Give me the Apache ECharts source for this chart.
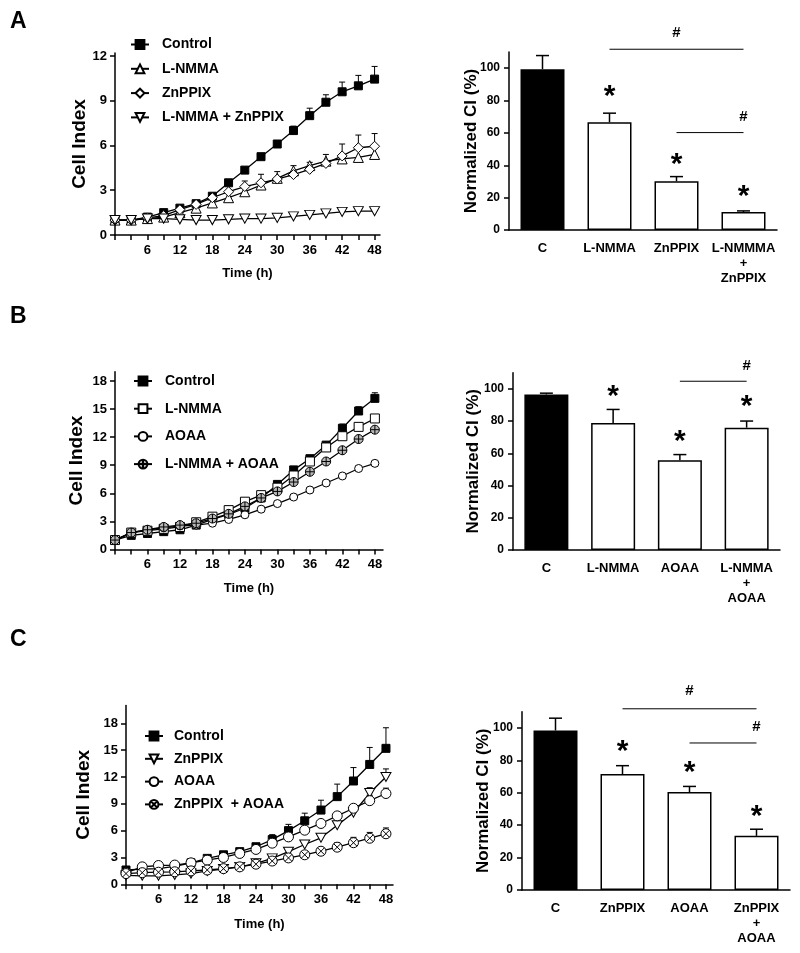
<!DOCTYPE html>
<html><head><meta charset="utf-8">
<script src="https://cdn.jsdelivr.net/npm/echarts@6/dist/echarts.min.js"></script>
<style>
body{margin:0;background:#fff;width:800px;height:953px;overflow:hidden;position:relative}
.row{position:absolute;left:0;width:800px}
</style></head>
<body>
<div id="rA" class="row" style="top:0;height:300px"></div>
<div id="rB" class="row" style="top:300px;height:320px"></div>
<div id="rC" class="row" style="top:620px;height:333px"></div>
<script>
// ---------- shared ticks ----------
const HOURS = [0,3,6,9,12,15,18,21,24,27,30,33,36,39,42,45,48];
const LINE_X_LABELS = [6,12,18,24,30,36,42,48];
const A_Y_TICKS = [0,3,6,9,12];
const BC_Y_TICKS = [0,3,6,9,12,15,18];
const BAR_Y_TICKS = [0,20,40,60,80,100];

// ---------- Panel A ----------
const A_control     = [1.0,1.0,1.2,1.5,1.8,2.1,2.6,3.5,4.35,5.25,6.1,7.0,8.0,8.9,9.6,10.0,10.45];
const A_control_err = [0,0,0,0,0,0,0,0,0,0,0.2,0.3,0.5,0.5,0.65,0.7,0.85];
const A_lnmma       = [1.0,1.0,1.1,1.2,1.5,1.8,2.15,2.5,2.9,3.35,3.8,4.3,4.65,4.95,5.1,5.2,5.4];
const A_lnmma_err   = [0,0,0,0,0,0,0,0,0,0,0,0,0,0,0,0,0];
const A_znppix      = [1.0,1.0,1.15,1.3,1.7,2.05,2.5,2.9,3.25,3.5,3.75,4.05,4.4,4.8,5.3,5.85,5.95];
const A_znppix_err  = [0,0,0,0,0,0,0,0,0.37,0.57,0.5,0.6,0.47,0.6,0.8,0.85,0.85];
const A_combo       = [1.0,1.0,1.1,1.1,1.05,1.0,1.0,1.05,1.1,1.1,1.15,1.25,1.35,1.45,1.55,1.6,1.6];
const A_combo_err   = [0,0,0,0,0,0,0,0,0,0,0,0,0,0,0,0,0];
const A_bar_labels  = ['C','L-NMMA','ZnPPIX','L-NMMMA\n+\nZnPPIX'];
const A_bar         = [99.4,66.6,30.1,11.1];
const A_bar_err     = [8.4,5.6,2.9,0.7];
const A_star_cats   = [1,2,3];
const A_star_y      = [85.6,43.3,23.7];
const A_sig         = [[1,3,111.7,121.8],[2,3,60.2,70.1]]; // [from, to, line y, # y]

// ---------- Panel B ----------
const B_control     = [1.0,1.5,1.7,1.9,2.1,2.6,3.2,3.75,4.4,5.5,6.95,8.5,9.7,11.15,12.95,14.8,16.15];
const B_control_err = [0,0,0,0,0,0,0,0,0,0,0,0.15,0.2,0.2,0.45,0.45,0.6];
const B_lnmma       = [1.0,1.8,2.0,2.2,2.4,2.9,3.5,4.2,5.1,5.8,6.6,7.9,9.4,10.9,12.1,13.1,14.0];
const B_lnmma_err   = [0,0,0,0,0,0,0,0,0,0,0,0,0,0,0,0,0];
const B_aoaa        = [1.0,1.8,2.1,2.3,2.5,2.6,2.8,3.2,3.7,4.3,4.9,5.6,6.35,7.1,7.85,8.65,9.2];
const B_aoaa_err    = [0,0,0,0,0,0,0,0,0,0,0,0,0,0,0,0,0];
const B_combo       = [1.0,1.8,2.1,2.4,2.6,2.8,3.3,3.8,4.6,5.5,6.2,7.2,8.3,9.4,10.6,11.8,12.8];
const B_combo_err   = [0,0,0,0,0,0,0,0,0,0,0,0,0,0,0,0,0];
const B_bar_labels  = ['C','L-NMMA','AOAA','L-NMMA\n+\nAOAA'];
const B_bar         = [96.5,78.8,55.7,75.9];
const B_bar_err     = [0.8,8.4,3.5,4.1];
const B_star_cats   = [1,2,3];
const B_star_y      = [97.9,70.5,91.7];
const B_sig         = [[2,3,104.7,114.4]];

// ---------- Panel C ----------
const C_control     = [1.6,1.7,1.75,2.0,2.4,2.9,3.3,3.65,4.2,5.0,6.0,7.1,8.3,9.8,11.55,13.4,15.2];
const C_control_err = [0,0,0,0,0,0,0,0,0.25,0.55,0.7,0.85,1.1,1.4,1.5,1.9,2.3];
const C_znppix      = [1.0,0.95,0.95,1.05,1.2,1.5,1.7,1.95,2.35,2.9,3.65,4.45,5.2,6.6,8.0,10.2,12.0];
const C_znppix_err  = [0,0,0,0,0,0,0,0,0,0,0,0,0,0,0.4,0.6,0.9];
const C_aoaa        = [1.3,1.95,2.1,2.15,2.4,2.7,3.0,3.45,3.9,4.6,5.3,6.05,6.8,7.65,8.5,9.35,10.15];
const C_aoaa_err    = [0,0,0,0,0,0,0,0,0,0,0,0,0,0,0,0.6,0.6];
const C_combo       = [1.2,1.3,1.35,1.4,1.5,1.6,1.75,1.95,2.25,2.6,2.95,3.3,3.7,4.15,4.65,5.15,5.65];
const C_combo_err   = [0,0,0,0,0,0,0,0,0,0,0.2,0.2,0.35,0.5,0.6,0.65,0.65];
const C_bar_labels  = ['C','ZnPPIX','AOAA','ZnPPIX\n+\nAOAA'];
const C_bar         = [98.4,71.5,60.4,33.4];
const C_bar_err     = [7.6,5.2,3.5,4.1];
const C_star_cats   = [1,2,3];
const C_star_y      = [88.2,75.3,48.4];
const C_sig         = [[1,3,111.8,122.6],[2,3,90.7,100.4]];

// ---------- styles ----------
const FONT = 'Liberation Sans, Arial, Helvetica, sans-serif';
const SYM = {
  rectFilled: {symbol:'rect', fill:'#000', size:8},
  rectOpen:   {symbol:'rect', fill:'#fff', size:9},
  triUp:      {symbol:'triangle', fill:'#fff', size:10},
  triDown:    {symbol:'path://M0,0L10,0L5,9Z', fill:'#fff', size:[10,9]},
  diamond:    {symbol:'diamond', fill:'#fff', size:10},
  circle:     {symbol:'circle', fill:'#fff', size:8},
  circleBig:  {symbol:'circle', fill:'#fff', size:10},
  circlePlus: {symbol:'path://M10,0A10,10,0,1,1,10,20A10,10,0,1,1,10,0ZM10,0L10,20M0,10L20,10', fill:'#b8b8b8', size:9},
  circleX:    {symbol:'path://M10,0A10,10,0,1,1,10,20A10,10,0,1,1,10,0ZM3,3L17,17M17,3L3,17', fill:'#fff', size:10}
};

function errItem(cap, lw) {
  return function (params, api) {
    const x = api.value(0), y = api.value(1), e = api.value(2);
    if (!e) return null;
    const p0 = api.coord([x, y]);
    const p1 = api.coord([x, y + e]);
    return {type:'group', children:[
      {type:'line', shape:{x1:p0[0], y1:p0[1], x2:p1[0], y2:p1[1]}, style:{stroke:'#000', lineWidth:lw}},
      {type:'line', shape:{x1:p1[0]-cap/2, y1:p1[1], x2:p1[0]+cap/2, y2:p1[1]}, style:{stroke:'#000', lineWidth:lw}}
    ]};
  };
}
function starItem(params, api) {
  const p = api.coord([api.value(0), api.value(1)]);
  return {type:'text', style:{text:'*', x:p[0], y:p[1] + 5, align:'center', verticalAlign:'middle',
    font:'bold 30px ' + FONT, fill:'#000'}};
}
function sigItem(params, api) {
  const a = api.coord([api.value(0), api.value(2)]);
  const b = api.coord([api.value(1), api.value(2)]);
  const h = api.coord([(api.value(0) + api.value(1)) / 2, api.value(3)]);
  return {type:'group', children:[
    {type:'line', shape:{x1:a[0], y1:a[1], x2:b[0], y2:b[1]}, style:{stroke:'#000', lineWidth:1}},
    {type:'text', style:{text:'#', x:h[0], y:h[1], align:'center', verticalAlign:'middle',
      font:'bold 15px ' + FONT, fill:'#000'}}
  ]};
}

const axisLine = {show:true, lineStyle:{color:'#000', width:1.5}};
const tickLbl = {color:'#000', fontWeight:'bold', fontSize:13, fontFamily:FONT};

function makeRow(el, cfg) {
  const chart = echarts.init(el, null, {renderer:'canvas'});
  const series = [];
  cfg.lines.forEach(l => {
    series.push({type:'custom', xAxisIndex:0, yAxisIndex:0, silent:true, z:1,
      renderItem: errItem(6, 1), encode:{x:0, y:1},
      data: HOURS.map((h, i) => [h, l.values[i], l.err[i]])});
  });
  cfg.lines.forEach(l => {
    series.push({type:'line', name:l.name, xAxisIndex:0, yAxisIndex:0, z:3,
      data: HOURS.map((h, i) => [h, l.values[i]]),
      symbol:l.sym.symbol, symbolSize:l.sym.size, showSymbol:true, showAllSymbol:true,
      lineStyle:{color:'#000', width:1.3},
      itemStyle:{color:l.sym.fill, borderColor:'#000', borderWidth:1}});
  });
  series.push({type:'bar', xAxisIndex:1, yAxisIndex:1, barWidth:44, z:2,
    data: cfg.bar.map((v, i) => ({value:v, itemStyle: i === 0
      ? {color:'#000', borderColor:'#000', borderWidth:1.5}
      : {color:'#fff', borderColor:'#000', borderWidth:1.5}}))});
  series.push({type:'custom', xAxisIndex:1, yAxisIndex:1, z:1, silent:true,
    renderItem: errItem(13, 1.5), encode:{x:0, y:1},
    data: cfg.bar.map((v, i) => [i, v, cfg.barErr[i]])});
  series.push({type:'custom', xAxisIndex:1, yAxisIndex:1, z:4, silent:true,
    renderItem: starItem, encode:{x:0, y:1},
    data: cfg.starCats.map((c, i) => [c, cfg.starY[i]])});
  series.push({type:'custom', xAxisIndex:1, yAxisIndex:1, z:4, silent:true,
    renderItem: sigItem, encode:{x:[0,1], y:[2,3]},
    data: cfg.sig});

  chart.setOption({
    animation:false,
    textStyle:{fontFamily:FONT},
    graphic:[{type:'text', left:cfg.letterPos[0], top:cfg.letterPos[1],
      style:{text:cfg.letter, font:'bold 23px ' + FONT, fill:'#000'}}],
    legend:{
      data: cfg.lines.map(l => l.name), orient:'vertical', padding:0,
      left:cfg.legend.left, top:cfg.legend.top, itemGap:cfg.legend.gap,
      itemWidth:18, itemHeight:11, selectedMode:false,
      textStyle:{color:'#000', fontWeight:'bold', fontSize:14, fontFamily:FONT, lineHeight:14,
        padding:[0,0,0,cfg.legend.textPad]}
    },
    grid:[
      Object.assign({containLabel:false}, cfg.lineGrid),
      Object.assign({containLabel:false}, cfg.barGrid)
    ],
    xAxis:[
      {type:'value', gridIndex:0, min:0, max:cfg.xMax,
       axisLine, splitLine:{show:false},
       axisTick:{show:true, length:5, lineStyle:{color:'#000', width:1.5}, customValues:HOURS},
       axisLabel:Object.assign({margin:9, customValues:LINE_X_LABELS}, tickLbl),
       name:'Time (h)', nameLocation:'middle', nameGap:cfg.timeGap, nameMoveOverlap:false,
       nameTextStyle:{color:'#000', fontWeight:'bold', fontSize:13, fontFamily:FONT}},
      {type:'category', gridIndex:1, data:cfg.barLabels,
       axisLine, axisTick:{show:false},
       axisLabel:Object.assign({margin:11, lineHeight:15, interval:0}, tickLbl)}
    ],
    yAxis:[
      {type:'value', gridIndex:0, min:0, max:cfg.yMax,
       axisLine, splitLine:{show:false},
       axisTick:{show:true, length:5, lineStyle:{color:'#000', width:1.5}, customValues:cfg.yTicks},
       axisLabel:Object.assign({margin:8, customValues:cfg.yTicks}, tickLbl),
       name:'Cell Index', nameLocation:'middle', nameGap:cfg.cellGap, nameMoveOverlap:false,
       nameTextStyle:{color:'#000', fontWeight:'bold', fontSize:19, fontFamily:FONT}},
      {type:'value', gridIndex:1, min:0, max:110,
       axisLine, splitLine:{show:false},
       axisTick:{show:true, length:5, lineStyle:{color:'#000', width:1.5}, customValues:BAR_Y_TICKS},
       axisLabel:Object.assign({}, tickLbl, {margin:9, fontSize:12, customValues:BAR_Y_TICKS}),
       name:'Normalized CI (%)', nameLocation:'middle', nameGap:cfg.normGap, nameMoveOverlap:false,
       nameTextStyle:{color:'#000', fontWeight:'bold', fontSize:17, fontFamily:FONT}}
    ],
    series
  });
}

makeRow(document.getElementById('rA'), {
  letter:'A', letterPos:[10, 10],
  lines:[
    {name:'Control', values:A_control, err:A_control_err, sym:SYM.rectFilled},
    {name:'L-NMMA', values:A_lnmma, err:A_lnmma_err, sym:SYM.triUp},
    {name:'ZnPPIX', values:A_znppix, err:A_znppix_err, sym:SYM.diamond},
    {name:'L-NMMA + ZnPPIX', values:A_combo, err:A_combo_err, sym:SYM.triDown}
  ],
  legend:{left:130, top:37.5, gap:10.3, textPad:8},
  lineGrid:{left:115, top:53, width:265, height:182},
  barGrid:{left:509, top:52, width:268, height:178},
  xMax:49, yMax:12.2, yTicks:A_Y_TICKS, timeGap:32, cellGap:26, normGap:29,
  bar:A_bar, barErr:A_bar_err, barLabels:A_bar_labels,
  starCats:A_star_cats, starY:A_star_y, sig:A_sig
});

makeRow(document.getElementById('rB'), {
  letter:'B', letterPos:[10, 5],
  lines:[
    {name:'Control', values:B_control, err:B_control_err, sym:SYM.rectFilled},
    {name:'L-NMMA', values:B_lnmma, err:B_lnmma_err, sym:SYM.rectOpen},
    {name:'AOAA', values:B_aoaa, err:B_aoaa_err, sym:SYM.circle},
    {name:'L-NMMA + AOAA', values:B_combo, err:B_combo_err, sym:SYM.circlePlus}
  ],
  legend:{left:133, top:74, gap:13.7, textPad:8},
  lineGrid:{left:115, top:71.7, width:268, height:177.7},
  barGrid:{left:513, top:72.7, width:267, height:177.3},
  xMax:49.5, yMax:19, yTicks:BC_Y_TICKS, timeGap:33, cellGap:29, normGap:31,
  bar:B_bar, barErr:B_bar_err, barLabels:B_bar_labels,
  starCats:B_star_cats, starY:B_star_y, sig:B_sig
});

makeRow(document.getElementById('rC'), {
  letter:'C', letterPos:[10, 8],
  lines:[
    {name:'Control', values:C_control, err:C_control_err, sym:SYM.rectFilled},
    {name:'ZnPPIX', values:C_znppix, err:C_znppix_err, sym:SYM.triDown},
    {name:'AOAA', values:C_aoaa, err:C_aoaa_err, sym:SYM.circleBig},
    {name:'ZnPPIX  + AOAA', values:C_combo, err:C_combo_err, sym:SYM.circleX}
  ],
  legend:{left:144, top:109, gap:8.8, textPad:6},
  lineGrid:{left:126, top:85.4, width:267, height:178.9},
  barGrid:{left:522, top:91.7, width:268, height:178.3},
  xMax:49.3, yMax:20, yTicks:BC_Y_TICKS, timeGap:34, cellGap:33, normGap:30,
  bar:C_bar, barErr:C_bar_err, barLabels:C_bar_labels,
  starCats:C_star_cats, starY:C_star_y, sig:C_sig
});
</script>
</body></html>
